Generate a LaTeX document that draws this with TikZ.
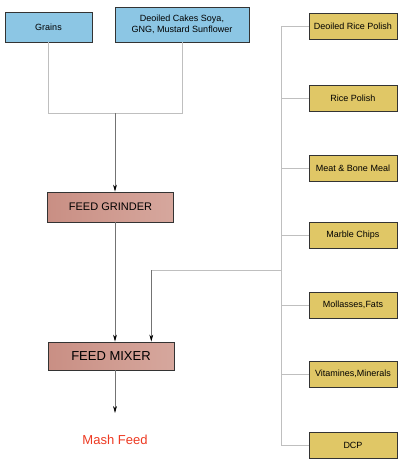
\documentclass[tikz,border=0pt]{standalone}
\usepackage{fontspec}
\setmainfont{Liberation Sans}
\usetikzlibrary{arrows.meta,positioning}
\definecolor{srcblue}{HTML}{8CC6E4}
\definecolor{addgold}{HTML}{E0C766}
\definecolor{millrose}{HTML}{C98F84}
\definecolor{millrose2}{HTML}{D6A79D}
\definecolor{mashred}{HTML}{EE3A22}

\begin{document}
\begin{tikzpicture}[x=1pt,y=-1pt,
            box/.style={rectangle, draw=black!80, line width=0.8pt, align=center,
                    inner sep=2pt},
            source/.style={box, fill=srcblue, font=\fontsize{9}{11}\selectfont},
            additive/.style={box, fill=addgold, minimum width=88pt, minimum height=26pt,
                    font=\fontsize{9}{11}\selectfont},
            machine/.style={box, left color=millrose, right color=millrose2,
                    minimum width=126pt},
            link/.style={draw=black!25, line width=0.9pt},
            feed/.style={draw=black!55, line width=0.6pt, -{Stealth[length=7pt,width=3.8pt,black]}}]

        \useasboundingbox[fill=white] (0,0) rectangle (400,461);

        % raw materials
        \node[source, minimum width=87pt, minimum height=30pt] (grains) at (48.5,27) {Grains};
        \node[source, minimum width=134pt, minimum height=35pt] (cakes) at (182,24.5)
            {Deoiled Cakes Soya,\\GNG, Mustard Sunflower};

        % machines
        \node[machine, minimum height=30pt, font=\fontsize{11}{13}\selectfont] (grinder) at (110.5,207) {FEED GRINDER};
        \node[machine, minimum height=28pt, font=\fontsize{13}{15}\selectfont] (mixer) at (111,356) {FEED MIXER};
        \node[text=mashred, font=\fontsize{13}{15}\selectfont] (mash) at (115,440) {Mash Feed};

        % additives
        \node[additive] (drp) at (353,26.7) {Deoiled Rice Polish};
        \node[additive] (rp)  at (353,98.3) {Rice Polish};
        \node[additive] (mbm) at (353,168) {Meat \& Bone Meal};
        \node[additive] (mc)  at (353,235) {Marble Chips};
        \node[additive] (mol) at (353,305.3) {Mollasses,Fats};
        \node[additive] (vit) at (353,374.2) {Vitamines,Minerals};
        \node[additive] (dcp) at (353,445.8) {DCP};

        \coordinate (mid) at (115,113);
        \coordinate (trunk) at (281,0);
        \coordinate (tap) at (281,270);
        \coordinate (side) at (151.3,0);
        \coordinate (out) at (115,413);

        % grinding line
        \draw[link] (grains.south) |- (mid);
        \draw[link] (cakes.south) |- (mid);
        \draw[feed] (mid) -- (mid |- grinder.north);
        \draw[feed] (mid |- grinder.south) -- (mid |- mixer.north);
        \draw[feed] (mid |- mixer.south) -- (out);

        % additive line
        \draw[link] (drp.west -| trunk) -- (dcp.west -| trunk);
        \draw[link] (drp.west) -- (drp.west -| trunk);
        \draw[link] (rp.west) -- (rp.west -| trunk);
        \draw[link] (mbm.west) -- (mbm.west -| trunk);
        \draw[link] (mc.west) -- (mc.west -| trunk);
        \draw[link] (mol.west) -- (mol.west -| trunk);
        \draw[link] (vit.west) -- (vit.west -| trunk);
        \draw[link] (dcp.west) -- (dcp.west -| trunk);
        \draw[link] (tap) -- (tap -| side);
        \draw[feed] (tap -| side) -- (side |- mixer.north);
    \end{tikzpicture}
\end{document}
